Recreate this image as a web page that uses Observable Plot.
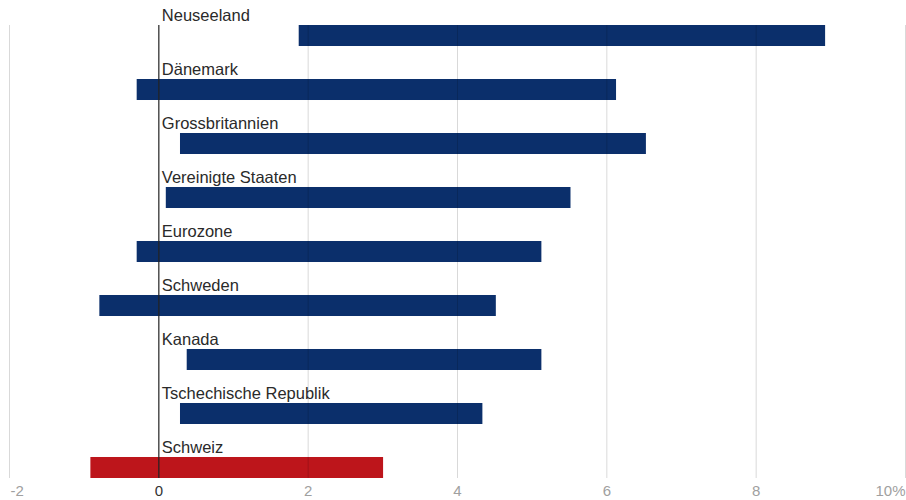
<!DOCTYPE html>
<html>
<head>
<meta charset="utf-8">
<script src="https://cdn.jsdelivr.net/npm/d3@7"></script>
<script src="https://cdn.jsdelivr.net/npm/@observablehq/plot@0.6"></script>
<style>
  html, body { margin: 0; padding: 0; background: #fff; }
  svg { display: block; }
</style>
</head>
<body>
<div id="chart"></div>
<script>
const countries = ["Neuseeland", "Dänemark", "Grossbritannien", "Vereinigte Staaten", "Eurozone", "Schweden", "Kanada", "Tschechische Republik", "Schweiz"];
const lows  = [1.88, -0.29, 0.29, 0.1, -0.29, -0.79, 0.38, 0.29, -0.91];
const highs = [8.93, 6.13, 6.53, 5.52, 5.13, 4.52, 5.13, 4.34, 3.01];
const highlight = "Schweiz";
const tickValues = [-2, 0, 2, 4, 6, 8, 10];
const tickLabels = ["-2", "0", "2", "4", "6", "8", "10%"];

const data = countries.map((c, i) => ({country: c, low: lows[i], high: highs[i]}));
const ticks = tickValues.map((v, i) => ({v, label: tickLabels[i]}));

const BLUE = "#0b2f6b", RED = "#bd151b";

const chart = Plot.plot({
  width: 906,
  height: 500,
  marginTop: 25,
  marginBottom: 22,
  marginLeft: 9,
  marginRight: 1,
  style: {fontFamily: "'Liberation Sans', Arial, sans-serif", background: "#fff"},
  x: {domain: [-2, 10], axis: null},
  y: {domain: countries, axis: null, paddingInner: 0.611, paddingOuter: 0, round: false},
  color: {type: "identity"},
  marks: [
    Plot.barX(data, {
      y: "country", x1: "low", x2: "high",
      fill: d => d.country === highlight ? RED : BLUE
    }),
    Plot.ruleX(tickValues.filter(v => v !== 0), {x: d => d, stroke: "#000", strokeOpacity: 0.15, strokeWidth: 1}),
    Plot.ruleX([0], {stroke: "#222", strokeWidth: 1.2}),
    Plot.text(data, {
      y: "country", x: 0, text: "country",
      textAnchor: "start", lineAnchor: "bottom", dx: 3, dy: -15,
      fontSize: 16.5, fill: "#2a2a2a"
    }),
    Plot.text(ticks.slice(0, 1), {x: "v", text: "label", frameAnchor: "bottom", lineAnchor: "top", dy: 7, textAnchor: "start", dx: 1, fontSize: 15, fill: "#a0a0a0"}),
    Plot.text(ticks.slice(1, -1), {x: "v", text: "label", frameAnchor: "bottom", lineAnchor: "top", dy: 7, fontSize: 15, fill: d => d.v === 0 ? "#333" : "#a0a0a0"}),
    Plot.text(ticks.slice(-1), {x: "v", text: "label", frameAnchor: "bottom", lineAnchor: "top", dy: 7, textAnchor: "end", fontSize: 15, fill: "#a0a0a0"})
  ]
});
document.getElementById("chart").appendChild(chart);
</script>
</body>
</html>
